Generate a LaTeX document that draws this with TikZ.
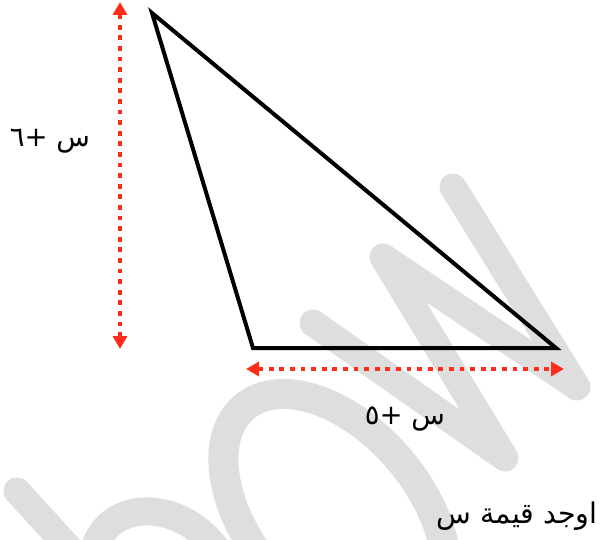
\documentclass[tikz,border=0pt]{standalone}
\usepackage{fontspec}
\newfontfamily\arabicfont[Script=Arabic]{DejaVu Sans}
\TeXXeTstate=1
\usetikzlibrary{arrows.meta}
\definecolor{wm}{RGB}{222,222,222}
\definecolor{dimred}{RGB}{255,45,25}
\begin{document}
\begin{tikzpicture}[x=1pt,y=-1pt,
  wmstroke/.style={draw=wm,line width=27pt,line cap=round,line join=round},
  tri/.style={draw=black,line width=4pt,line join=miter},
  dimarrow/.style={draw=dimred,line width=4.8pt,dash pattern=on 4.8pt off 5.8pt,
    {Triangle[length=13pt,width=14pt]}-{Triangle[length=13pt,width=14pt]}},
  lbl/.style={font=\arabicfont\fontsize{27.5}{32}\selectfont,text=black,inner sep=0pt}]
\useasboundingbox[fill=white] (0,0) rectangle (613,540);
% watermark
\begin{scope}
\clip (0,0) rectangle (613,540);
\draw[wmstroke] (17,491) -- (80,560);
\draw[wmstroke,line width=28pt,rotate around={-40:(162,578)}] (162,578) ellipse [x radius=75pt,y radius=60pt];
\draw[wmstroke,line width=30pt,rotate around={-50:(335,515)}] (335,515) ellipse [x radius=141pt,y radius=85pt];
\draw[wmstroke] (313,323) -- (505,458) -- (383,257) -- (577,387) -- (453,187);
\end{scope}
% triangle
\coordinate (A) at (152,13);
\coordinate (B) at (253,348);
\coordinate (C) at (556,348);
\draw[tri] (A) -- (B) -- (C) -- cycle;
% dimension arrows
\coordinate (v1) at (120,2);
\coordinate (v2) at (120,349);
\coordinate (h1) at (246,369);
\coordinate (h2) at (564,369);
\draw[dimarrow] (v1) -- (v2);
\draw[dimarrow] (h1) -- (h2);
% labels
\node[lbl] (lv) at (50,141) {\beginR س +٦\endR};
\node[lbl] (lh) at (405,419) {\beginR س +٥\endR};
\node[lbl,font=\arabicfont\fontsize{28.5}{33}\selectfont] (q) at (517,516) {\beginR اوجد قيمة س\endR};
\end{tikzpicture}
\end{document}
